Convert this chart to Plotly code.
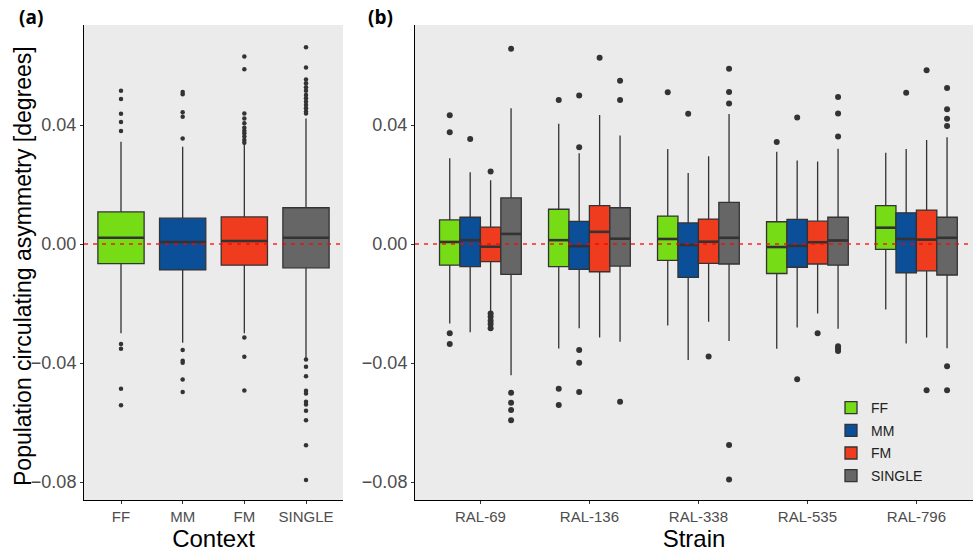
import plotly.graph_objects as go

# ---------------- data ----------------
contexts = ["FF", "MM", "FM", "SINGLE"]
colors = ["#76DC16", "#0B4F98", "#F03C1E", "#666666"]

# Panel (a): by context
a_q1 = [-0.0066, -0.0087, -0.0071, -0.0080]
a_med = [0.0021, 0.0007, 0.0010, 0.0021]
a_q3 = [0.0108, 0.0087, 0.0091, 0.0122]
a_lo = [-0.0300, -0.0332, -0.0300, -0.0384]
a_hi = [0.0344, 0.0327, 0.0336, 0.0422]
a_out_ff = [0.0515, 0.0487, 0.0438, 0.0410, 0.0380, -0.0336, -0.0352, -0.0486, -0.0542]
a_out_mm = [0.0511, 0.0503, 0.0443, 0.0428, 0.0355, -0.0356, -0.0392, -0.0399, -0.0455, -0.0497]
a_out_fm = [0.0630, 0.0587, 0.0439, 0.0422, 0.0406, 0.0391, 0.0381, 0.0372, 0.0361, 0.0350, 0.0340,
            -0.0314, -0.0379, -0.0492]
a_out_single = [0.0661, 0.0593, 0.0553, 0.0540, 0.0527, 0.0515, 0.0501, 0.0490, 0.0478, 0.0467, 0.0456,
                0.0445, 0.0439, -0.0388, -0.0412, -0.0444, -0.0493, -0.0502, -0.0530, -0.0539, -0.0560,
                -0.0592, -0.0676, -0.0793]
a_out = [a_out_ff, a_out_mm, a_out_fm, a_out_single]

# Panel (b): by strain and context
strains = ["RAL-69", "RAL-136", "RAL-338", "RAL-535", "RAL-796"]

b_q1_ff = [-0.0071, -0.0076, -0.0055, -0.0099, -0.0018]
b_med_ff = [0.0007, 0.0013, 0.0017, -0.0010, 0.0055]
b_q3_ff = [0.0081, 0.0117, 0.0094, 0.0075, 0.0129]
b_lo_ff = [-0.0267, -0.0351, -0.0274, -0.0352, -0.0220]
b_hi_ff = [0.0288, 0.0404, 0.0319, 0.0310, 0.0307]
b_out_ff = [[0.0433, 0.0376, -0.0300, -0.0336], [0.0484, -0.0486, -0.0541], [0.0510], [0.0343], []]

b_q1_mm = [-0.0076, -0.0085, -0.0112, -0.0078, -0.0097]
b_med_mm = [0.0013, -0.0007, -0.0003, -0.0006, 0.0017]
b_q3_mm = [0.0090, 0.0076, 0.0071, 0.0083, 0.0105]
b_lo_mm = [-0.0296, -0.0283, -0.0390, -0.0280, -0.0334]
b_hi_mm = [0.0241, 0.0305, 0.0239, 0.0281, 0.0319]
b_out_mm = [[0.0353], [0.0499, 0.0325, -0.0356, -0.0399, -0.0497], [0.0438], [0.0425, -0.0454], [0.0508]]

b_q1_fm = [-0.0059, -0.0093, -0.0065, -0.0067, -0.0090]
b_med_fm = [-0.0009, 0.0041, 0.0008, 0.0006, 0.0015]
b_q3_fm = [0.0057, 0.0129, 0.0084, 0.0077, 0.0114]
b_lo_fm = [-0.0225, -0.0314, -0.0261, -0.0233, -0.0314]
b_hi_fm = [0.0214, 0.0434, 0.0295, 0.0277, 0.0350]
b_out_fm = [[0.0244, -0.0233, -0.0244, -0.0258, -0.0269, -0.0283], [0.0626], [-0.0378], [-0.0300],
            [0.0584, -0.0491]]

b_q1_single = [-0.0102, -0.0074, -0.0067, -0.0071, -0.0104]
b_med_single = [0.0034, 0.0018, 0.0021, 0.0012, 0.0021]
b_q3_single = [0.0155, 0.0122, 0.0140, 0.0090, 0.0090]
b_lo_single = [-0.0441, -0.0328, -0.0326, -0.0285, -0.0350]
b_hi_single = [0.0456, 0.0365, 0.0437, 0.0320, 0.0359]
b_out_single = [[0.0656, -0.0500, -0.0533, -0.0558, -0.0592], [0.0549, 0.0484, -0.0530],
                [0.0589, 0.0511, 0.0472, -0.0675, -0.0791],
                [0.0494, 0.0439, 0.0361, -0.0343, -0.0351, -0.0359],
                [0.0524, 0.0453, 0.0421, 0.0397, -0.0411, -0.0491]]

b_q1 = [b_q1_ff, b_q1_mm, b_q1_fm, b_q1_single]
b_med = [b_med_ff, b_med_mm, b_med_fm, b_med_single]
b_q3 = [b_q3_ff, b_q3_mm, b_q3_fm, b_q3_single]
b_lo = [b_lo_ff, b_lo_mm, b_lo_fm, b_lo_single]
b_hi = [b_hi_ff, b_hi_mm, b_hi_fm, b_hi_single]
b_out = [b_out_ff, b_out_mm, b_out_fm, b_out_single]

y_ticks = [-0.08, -0.04, 0.0, 0.04]
y_ticktext = ["\u22120.08", "\u22120.04", "0.00", "0.04"]

# ---------------- styling ----------------
W, H = 973, 554
OUTLINE = "#333333"
A_WIDTH = 0.75
B_DODGE = 0.75 / len(contexts)
FONT = "Liberation Sans, Arial, sans-serif"

fig = go.Figure()


def add_median(xs, meds, w, xa, ya):
    lx, ly = [], []
    for x, m in zip(xs, meds):
        lx += [x - w / 2, x + w / 2, None]
        ly += [m, m, None]
    fig.add_trace(go.Scatter(x=lx, y=ly, mode="lines", line=dict(color=OUTLINE, width=2.6),
                             showlegend=False, hoverinfo="skip", xaxis=xa, yaxis=ya))


# Panel (a)
for i, c in enumerate(contexts):
    pos = [i + 1]
    fig.add_trace(go.Box(
        x=pos, q1=[a_q1[i]], median=[a_med[i]], q3=[a_q3[i]],
        lowerfence=[a_lo[i]], upperfence=[a_hi[i]],
        width=A_WIDTH, fillcolor=colors[i], line=dict(color=OUTLINE, width=1.3),
        whiskerwidth=0, boxpoints=False, name=c, showlegend=False,
        xaxis="x", yaxis="y"))
    add_median(pos, [a_med[i]], A_WIDTH, "x", "y")
    fig.add_trace(go.Scatter(
        x=[i + 1] * len(a_out[i]), y=a_out[i], mode="markers",
        marker=dict(color=OUTLINE, size=4.5), showlegend=False, xaxis="x", yaxis="y"))

# Panel (b)
for k, c in enumerate(contexts):
    pos = [j + 1 + (k - (len(contexts) - 1) / 2) * B_DODGE for j in range(len(strains))]
    fig.add_trace(go.Box(
        x=pos, q1=b_q1[k], median=b_med[k], q3=b_q3[k],
        lowerfence=b_lo[k], upperfence=b_hi[k],
        width=B_DODGE, fillcolor=colors[k], line=dict(color=OUTLINE, width=1.3),
        whiskerwidth=0, boxpoints=False, name=c, showlegend=True, legendgroup=c,
        xaxis="x2", yaxis="y2"))
    add_median(pos, b_med[k], B_DODGE, "x2", "y2")
    ox, oy = [], []
    for j, vals in enumerate(b_out[k]):
        ox += [pos[j]] * len(vals)
        oy += vals
    fig.add_trace(go.Scatter(
        x=ox, y=oy, mode="markers", marker=dict(color=OUTLINE, size=6),
        showlegend=False, xaxis="x2", yaxis="y2"))

y_dom = [1 - 500 / H, 1 - 25 / H]
y_range = [-0.086, 0.0736]

common_x = dict(showgrid=False, zeroline=False, showline=True, linecolor="black", linewidth=1,
                ticks="outside", ticklen=3, tickcolor=OUTLINE,
                tickfont=dict(size=15, color="#4D4D4D", family=FONT), automargin=False)
common_y = dict(showgrid=False, zeroline=False, showline=True, linecolor="black", linewidth=1,
                ticks="outside", ticklen=3, tickcolor=OUTLINE, range=y_range,
                tickvals=y_ticks, ticktext=y_ticktext,
                tickfont=dict(size=18, color="#4D4D4D", family=FONT), automargin=False)

fig.update_layout(
    width=W, height=H,
    margin=dict(l=0, r=0, t=0, b=0),
    paper_bgcolor="white", plot_bgcolor="#EBEBEB",
    font=dict(family=FONT, color="black"),
    xaxis=dict(domain=[84 / W, 343 / W], range=[0.4, 4.6], tickvals=[1, 2, 3, 4], ticktext=contexts,
               anchor="y",
               title=dict(text="Context", font=dict(size=24, color="black"), standoff=2), **common_x),
    yaxis=dict(domain=y_dom, anchor="x", **common_y),
    xaxis2=dict(domain=[415 / W, 1.0], range=[0.4, 0.4 + (W - 415) / 109.0],
                tickvals=[1, 2, 3, 4, 5], ticktext=strains, anchor="y2",
                title=dict(text="Strain", font=dict(size=24, color="black"), standoff=2), **common_x),
    yaxis2=dict(domain=y_dom, anchor="x2", **common_y),
    legend=dict(x=831 / W, y=1 - 392 / H, xanchor="left", yanchor="top",
                bgcolor="rgba(0,0,0,0)", font=dict(size=14, color="#222222", family=FONT),
                tracegroupgap=1.5, itemwidth=30),
    showlegend=True,
)

# Y-axis title
fig.add_annotation(x=23 / W, y=1 - 266 / H, xref="paper", yref="paper",
                   text="Population circulating asymmetry [degrees]", textangle=-90,
                   showarrow=False, xanchor="center", yanchor="middle",
                   font=dict(size=23, color="black", family=FONT))

# Reference line at zero in both panels
for xr, yr in [("x domain", "y"), ("x2 domain", "y2")]:
    fig.add_shape(type="line", xref=xr, yref=yr, x0=0, x1=1, y0=0, y1=0,
                  line=dict(color="rgba(255,0,0,0.85)", width=1.4, dash="4px,5px"), layer="above")

fig.add_annotation(x=17 / W, y=1 - 17 / H, xref="paper", yref="paper", text="<b>(a)</b>",
                   showarrow=False, xanchor="left", yanchor="middle",
                   font=dict(size=19, family="Open Sans, sans-serif", color="black"))
fig.add_annotation(x=366 / W, y=1 - 17 / H, xref="paper", yref="paper", text="<b>(b)</b>",
                   showarrow=False, xanchor="left", yanchor="middle",
                   font=dict(size=19, family="Open Sans, sans-serif", color="black"))

fig.write_html("out.html")
